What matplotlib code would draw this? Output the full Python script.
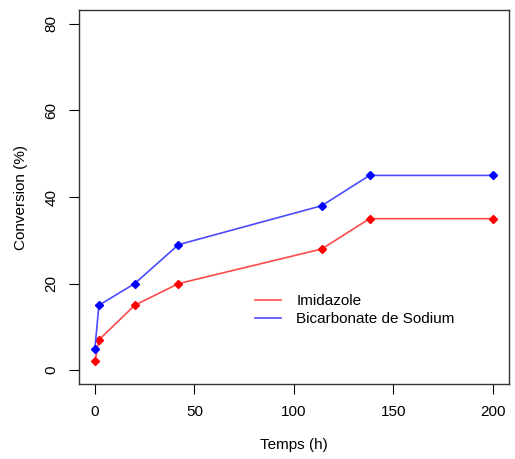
import matplotlib
matplotlib.use('Agg')
import matplotlib.pyplot as plt

# ── Data ──────────────────────────────────────────────────────────────────────
temps       = [0, 2, 20, 42, 114, 138, 200]
imidazole   = [2, 7, 15, 20, 28, 35, 35]
bicarbonate = [5, 15, 20, 29, 38, 45, 45]
x_ticks     = [0, 50, 100, 150, 200]
y_ticks     = [0, 20, 40, 60, 80]

plt.rcParams.update({
    "font.family": ["Liberation Sans", "DejaVu Sans"],
    "font.size": 11,
    "axes.linewidth": 1.0,
    "xtick.major.size": 7,
    "ytick.major.size": 7,
    "xtick.major.pad": 8,
    "ytick.major.pad": 8,
})

fig = plt.figure(figsize=(5.15, 4.59), dpi=100)
ax = fig.add_axes([0.1534, 0.1634, 0.8346, 0.8146])

ax.plot(temps, imidazole, color="#ff4a4a", lw=1.2, label="Imidazole")
ax.plot(temps, imidazole, ls="none", marker="D", ms=4, color="#ff0000")
ax.plot(temps, bicarbonate, color="#4a4aff", lw=1.2, label="Bicarbonate de Sodium")
ax.plot(temps, bicarbonate, ls="none", marker="D", ms=4, color="#0000ff")

ax.set_xlim(-8, 208)
ax.set_ylim(-3.2, 83.2)
ax.set_xticks(x_ticks)
ax.set_yticks(y_ticks)
ax.set_yticklabels([str(v) for v in y_ticks], rotation=90, va="center")
ax.set_xlabel("Temps (h)", labelpad=14)
ax.set_ylabel("Conversion (%)", labelpad=12)

for spine in ax.spines.values():
    spine.set_edgecolor("#333333")

ax.legend(loc="center left", bbox_to_anchor=(0.41, 0.197), frameon=False,
          borderpad=0, borderaxespad=0, handlelength=1.7, handletextpad=1.0,
          labelspacing=0.25)

plt.savefig("out.png", dpi=100)
